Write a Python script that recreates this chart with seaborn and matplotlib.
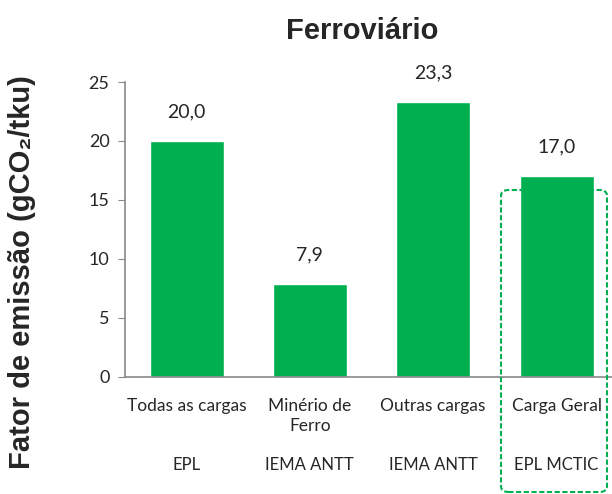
import seaborn as sns
import matplotlib.pyplot as plt
import pandas as pd
from matplotlib.patches import FancyBboxPatch

categorias = ["Todas as cargas", "Minério de\nFerro", "Outras cargas", "Carga Geral"]
fontes = ["EPL", "IEMA ANTT", "IEMA ANTT", "EPL MCTIC"]
valores = [20.0, 7.9, 23.3, 17.0]
rotulos = ["20,0", "7,9", "23,3", "17,0"]

df = pd.DataFrame({"categoria": categorias, "valor": valores})

sns.set_style("white")
plt.rcParams['font.family'] = ['Lato', 'DejaVu Sans']

fig = plt.figure(figsize=(6.12, 4.94), dpi=100)
ax = fig.add_axes([0.204, 0.237, 0.796, 0.597])

sns.barplot(data=df, x="categoria", y="valor", color="#00B050", saturation=1,
            width=0.6, ax=ax)

ax.set_xlim(-0.5, 3.45)
ax.set_ylim(0, 25)
ax.set_yticks([0, 5, 10, 15, 20, 25])
ax.set_xlabel("")
ax.set_ylabel("")
for s in ["top", "right"]:
    ax.spines[s].set_visible(False)
for s in ["left", "bottom"]:
    ax.spines[s].set_color("#898989")
    ax.spines[s].set_linewidth(1.2)
ax.tick_params(axis="y", left=True, length=5, color="#898989", labelsize=13, pad=6)
ax.tick_params(axis="x", bottom=False, labelsize=12.5, pad=12)
for t in ax.get_xticklabels():
    t.set_va("top")
    t.set_linespacing(1.25)

for i, (v, r) in enumerate(zip(valores, rotulos)):
    ax.annotate(r, (i, v), xytext=(0, 21), textcoords="offset points",
                ha="center", va="center", fontsize=14)

for i, f in enumerate(fontes):
    ax.text(i, -0.30, f, transform=ax.get_xaxis_transform(), ha="center",
            va="center", fontsize=12)

fig.text(0.592, 0.938, "Ferroviário", ha="center", va="center",
         fontsize=21, fontweight="bold", family=["Liberation Sans", "DejaVu Sans"])
fig.text(0.036, 0.449, "Fator de emissão (gCO₂/tku)", ha="center", va="center",
         rotation=90, fontsize=21, fontweight="bold",
         family=["Liberation Sans", "DejaVu Sans"])

box = FancyBboxPatch((501 / 612, 2 / 494), 106 / 612, 302 / 494,
                     boxstyle="round,pad=0,rounding_size=0.012",
                     transform=fig.transFigure, fill=False,
                     edgecolor="#00B050", linestyle=(0, (2.5, 1.2)), linewidth=1.5)
fig.patches.append(box)

fig.savefig("out.png", dpi=100)
